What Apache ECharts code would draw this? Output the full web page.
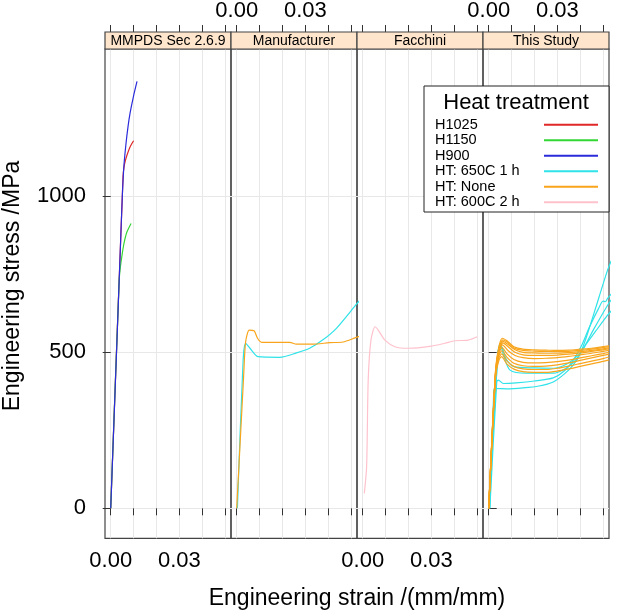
<!DOCTYPE html>
<html>
<head>
<meta charset="utf-8">
<script src="https://cdn.jsdelivr.net/npm/echarts@6/dist/echarts.min.js"></script>
<style>html,body{margin:0;padding:0;background:#fff}#c{width:618px;height:612px}</style>
</head>
<body>
<div id="c"></div>
<script>
// ---------- data ----------
const panels = ['MMPDS Sec 2.6.9', 'Manufacturer', 'Facchini', 'This Study'];
const groups = ['H1025', 'H1150', 'H900', 'HT: 650C 1 h', 'HT: None', 'HT: 600C 2 h'];
const groupColors = ['#e02626', '#33d633', '#2b2bdc', '#2fe3e8', '#f8a51c', '#ffc2cc'];
const xTicks = [0, 0.01, 0.02, 0.03, 0.04, 0.05];
const xLabels = [0, 0.03];
const yTicks = [0, 500, 1000];

// MMPDS
const mmpdsH1025 = [[0,0],[0.0054,1065],[0.0058,1093],[0.0064,1114],[0.0072,1134],[0.0085,1159],[0.0100,1178]];
const mmpdsH1150 = [[0,0],[0.0037,730],[0.0042,772],[0.0050,814],[0.0058,849],[0.0070,884],[0.0089,913]];
const mmpdsH900  = [[0,0],[0.0025,493],[0.0041,810],[0.0051,1005],[0.0058,1100],[0.0067,1170],[0.0076,1225],[0.0085,1268],[0.0100,1322],[0.0115,1368]];
// Manufacturer
const manuNone = [[0,0],[0.0030,420],[0.0039,534],[0.0055,571],[0.0076,569],[0.0091,545],[0.0109,532],[0.0232,532],[0.0261,526],[0.0334,526],[0.0407,531],[0.0465,533],[0.0520,547],[0.0540,552]];
const manu650  = [[0.0003,0],[0.0028,475],[0.0039,529],[0.0058,513],[0.0094,486],[0.0188,484],[0.0261,498],[0.0319,513],[0.0377,540],[0.0436,577],[0.0520,651],[0.0540,668]];
// Facchini
const facc600 = [[0.0007,48],[0.0017,133],[0.0024,411],[0.0036,539],[0.0054,582],[0.0068,571],[0.0097,539],[0.0141,518],[0.0199,513],[0.0301,520],[0.0359,529],[0.0403,537],[0.0461,539],[0.0501,550]];
// This Study, HT: 650C 1 h
const study650a = [[0.0005,0],[0.0022,375],[0.0027,384],[0.0080,383],[0.0150,386],[0.0220,392],[0.0282,405],[0.0330,430],[0.0370,460],[0.0400,495],[0.0430,555],[0.0465,636],[0.0520,764],[0.0540,800]];
const study650b = [[0.0005,0],[0.0035,405],[0.0042,411],[0.0064,400],[0.0120,402],[0.0200,408],[0.0282,418],[0.0330,440],[0.0370,475],[0.0405,520],[0.0440,580],[0.0480,640],[0.0500,664],[0.0510,662],[0.0520,673],[0.0540,690]];
const study650c = [[0,0],[0.0040,500],[0.0050,528],[0.0065,490],[0.0093,443],[0.0165,433],[0.0282,433],[0.0340,450],[0.0380,475],[0.0420,520],[0.0460,575],[0.0520,651],[0.0540,672]];
const study650d = [[0,0],[0.0042,505],[0.0055,520],[0.0075,480],[0.0110,454],[0.0200,450],[0.0282,449],[0.0340,462],[0.0390,490],[0.0430,530],[0.0470,570],[0.0520,619],[0.0540,636]];
// This Study, HT: None
const studyNone1 = [[0,0],[0.0030,445],[0.0045,520],[0.0060,545],[0.0080,537],[0.0110,518],[0.0150,510],[0.0200,508],[0.0250,507],[0.0300,506],[0.0350,507],[0.0400,510],[0.0450,513],[0.0500,518],[0.0526,521]];
const studyNone2 = [[0,0],[0.0030,440],[0.0045,515],[0.0062,540],[0.0082,532],[0.0110,514],[0.0150,506],[0.0200,504],[0.0250,503],[0.0300,502],[0.0350,503],[0.0400,506],[0.0450,510],[0.0500,515],[0.0526,518]];
const studyNone3 = [[0,0],[0.0030,438],[0.0046,512],[0.0063,535],[0.0085,525],[0.0115,508],[0.0150,500],[0.0200,498],[0.0250,497],[0.0300,497],[0.0350,499],[0.0400,502],[0.0450,506],[0.0500,511],[0.0526,514]];
const studyNone4 = [[0,0],[0.0030,436],[0.0047,510],[0.0062,530],[0.0085,518],[0.0115,500],[0.0150,492],[0.0200,490],[0.0250,490],[0.0300,491],[0.0350,494],[0.0400,498],[0.0450,503],[0.0500,508],[0.0526,511]];
const studyNone5 = [[0,0],[0.0030,432],[0.0046,505],[0.0060,524],[0.0085,505],[0.0115,490],[0.0150,483],[0.0200,480],[0.0250,481],[0.0300,483],[0.0350,487],[0.0400,492],[0.0450,497],[0.0500,503],[0.0526,506]];
const studyNone6 = [[0,0],[0.0030,430],[0.0046,498],[0.0058,515],[0.0080,495],[0.0110,477],[0.0150,468],[0.0200,466],[0.0250,467],[0.0300,470],[0.0350,475],[0.0400,482],[0.0450,489],[0.0500,496],[0.0526,500]];
const studyNone7 = [[0,0],[0.0030,428],[0.0045,490],[0.0058,505],[0.0080,484],[0.0110,465],[0.0150,457],[0.0200,455],[0.0250,456],[0.0300,460],[0.0350,466],[0.0400,474],[0.0450,482],[0.0500,490],[0.0526,494]];
const studyNone8 = [[0,0],[0.0030,425],[0.0045,482],[0.0057,495],[0.0080,472],[0.0110,455],[0.0150,447],[0.0200,445],[0.0250,445],[0.0300,449],[0.0350,456],[0.0400,464],[0.0450,472],[0.0500,480],[0.0526,485]];
const studyNone9 = [[0,0],[0.0030,422],[0.0045,475],[0.0056,486],[0.0080,462],[0.0110,446],[0.0150,438],[0.0200,436],[0.0250,436],[0.0300,440],[0.0350,447],[0.0400,455],[0.0450,463],[0.0500,471],[0.0526,476]];

// curves: [panel index, group index, data]  (drawing order follows group order)
const curves = [
  [0, 0, mmpdsH1025], [0, 1, mmpdsH1150], [0, 2, mmpdsH900],
  [1, 3, manu650], [3, 3, study650a], [3, 3, study650b], [3, 3, study650c], [3, 3, study650d],
  [1, 4, manuNone], [3, 4, studyNone1], [3, 4, studyNone2], [3, 4, studyNone3], [3, 4, studyNone4],
  [3, 4, studyNone5], [3, 4, studyNone6], [3, 4, studyNone7], [3, 4, studyNone8], [3, 4, studyNone9],
  [2, 5, facc600]
];

// ---------- layout ----------
const FONT = 'Liberation Sans, Arial, Helvetica, sans-serif';
const L0 = 105, PW = 126, TOP = 49, PH = 489.3, STRIP = 17;
const XMIN = -0.0025, XMAX = 0.0526, YMIN = -96, YMAX = 1472;
const BORDER = '#444', GRIDC = '#e8e8e8';

const grids = [], xAxes = [], yAxes = [], graphics = [];
panels.forEach((p, i) => {
  grids.push({left: L0 + i * PW, top: TOP, width: PW, height: PH, show: true,
    borderColor: BORDER, borderWidth: 1.2, backgroundColor: 'transparent', containLabel: false});
  const tick = {show: true, inside: false, length: 7, customValues: xTicks, lineStyle: {color: '#333', width: 1}};
  xAxes.push({type: 'value', gridIndex: i, position: 'bottom', min: XMIN, max: XMAX,
    axisLine: {show: false}, axisTick: tick,
    axisLabel: {show: i % 2 === 0, customValues: xLabels, formatter: v => v.toFixed(2), margin: 12,
      fontSize: 22, color: '#000', fontFamily: FONT},
    splitLine: {show: true, lineStyle: {color: GRIDC, width: 1}}});
  yAxes.push({type: 'value', gridIndex: i, position: i === 3 ? 'right' : 'left', min: YMIN, max: YMAX,
    axisLine: {show: false},
    axisTick: {show: i === 0 || i === 3, inside: false, length: 8, customValues: yTicks, lineStyle: {color: '#333', width: 1}},
    axisLabel: {show: i === 0, customValues: yTicks, formatter: v => String(v), margin: 19, fontSize: 22, color: '#000', fontFamily: FONT},
    splitLine: {show: true, lineStyle: {color: GRIDC, width: 1}}});
  // strip
  graphics.push({type: 'rect', shape: {x: L0 + i * PW, y: TOP - STRIP, width: PW, height: STRIP},
    style: {fill: '#ffe5cc', stroke: BORDER, lineWidth: 1.2}, z: 50});
  graphics.push({type: 'text', x: L0 + i * PW + PW / 2, y: TOP - STRIP / 2 + 0.5,
    style: {text: p, fill: '#000', font: '14px ' + FONT, textAlign: 'center', textVerticalAlign: 'middle'}, z: 51});
});
panels.forEach((p, i) => {
  xAxes.push({type: 'value', gridIndex: i, position: 'top', offset: STRIP, min: XMIN, max: XMAX,
    axisLine: {show: false},
    axisTick: {show: true, inside: false, length: 7, customValues: xTicks, lineStyle: {color: '#333', width: 1}},
    axisLabel: {show: i % 2 === 1, customValues: xLabels, formatter: v => v.toFixed(2), margin: 10,
      fontSize: 22, color: '#000', fontFamily: FONT},
    splitLine: {show: false}});
});

graphics.push({type: 'text', x: L0 + 2 * PW, y: 599,
  style: {text: 'Engineering strain /(mm/mm)', fill: '#000', font: '23px ' + FONT, textAlign: 'center', textVerticalAlign: 'middle'}});
graphics.push({type: 'text', x: 13, y: 286, rotation: Math.PI / 2,
  style: {text: 'Engineering stress /MPa', fill: '#000', font: '23px ' + FONT, textAlign: 'center', textVerticalAlign: 'middle'}});
graphics.push({type: 'text', x: 516, y: 103, z: 100,
  style: {text: 'Heat treatment', fill: '#000', font: '22px ' + FONT, textAlign: 'center', textVerticalAlign: 'middle'}});

const series = curves.map(([p, g, d]) => ({
  type: 'line', name: groups[g], xAxisIndex: p, yAxisIndex: p, data: d,
  symbol: 'none', showSymbol: false, smooth: 0.25, clip: true,
  lineStyle: {color: groupColors[g], width: 1.2}, itemStyle: {color: groupColors[g]},
  emphasis: {disabled: true}, animation: false
}));

const chart = echarts.init(document.getElementById('c'), null, {renderer: 'canvas'});
chart.setOption({
  backgroundColor: '#fff',
  animation: false,
  grid: grids, xAxis: xAxes, yAxis: yAxes, series: series, graphic: graphics,
  legend: {
    data: groups, orient: 'vertical', align: 'right', left: 424, top: 86,
    padding: [31, 10, 2, 11], itemGap: 0, itemWidth: 54, itemHeight: 15.5,
    backgroundColor: '#fff', borderColor: '#222', borderWidth: 1, borderRadius: 0,
    itemStyle: {opacity: 0},
    formatter: name => '{a|' + name + '}',
    textStyle: {fontSize: 14.5, color: '#000', fontFamily: FONT, lineHeight: 15.5,
      rich: {a: {width: 104, align: 'left', fontSize: 14.5, fontFamily: FONT, color: '#000', lineHeight: 15.5}}},
    selectedMode: false, z: 20
  }
});
</script>
</body>
</html>
